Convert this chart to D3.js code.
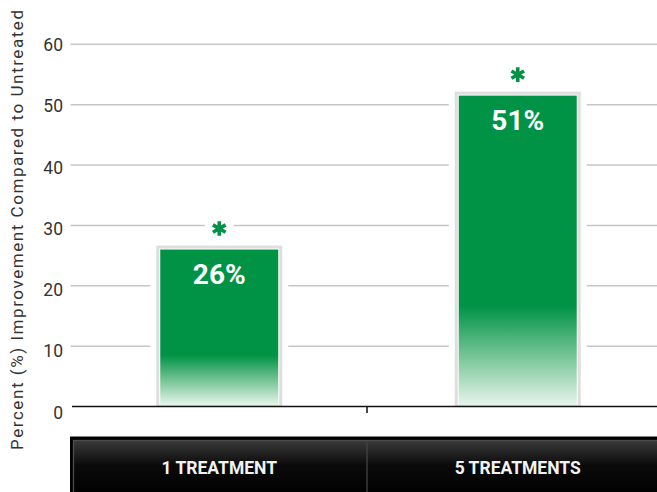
<!DOCTYPE html>
<html>
<head>
<meta charset="utf-8">
<script src="https://cdn.jsdelivr.net/npm/d3@7"></script>
<style>
  html, body { margin: 0; padding: 0; background: #fff; }
  svg { display: block; }
</style>
</head>
<body>
<svg id="chart" width="657" height="492"></svg>
<script>
// ---- data ----
const categories = ["1 TREATMENT", "5 TREATMENTS"];
const values = [26, 51.5];
const valueLabels = ["26%", "51%"];
const significant = [true, true];
const yTicks = [0, 10, 20, 30, 40, 50, 60];
const yTitle = "Percent (%) Improvement Compared to Untreated";

// ---- layout ----
const W = 657, H = 492;
const green = "#009345";
const svg = d3.select("#chart");
const defs = svg.append("defs");

const y = d3.scaleLinear().domain([0, 60]).range([406.5, 44.3]);
const yLab = d3.scaleLinear().domain([0, 60]).range([412.5, 44.6]);
const x = d3.scalePoint().domain(categories).range([70, 667]).padding(0.5);
const step = x.step();
const greenW = 118, border = 4, gapHalf = 69;

// gradients
const bg = defs.append("linearGradient").attr("id", "barGrad")
  .attr("x1", 0).attr("y1", 0).attr("x2", 0).attr("y2", 1);
bg.append("stop").attr("offset", 0).attr("stop-color", green);
bg.append("stop").attr("offset", 0.68).attr("stop-color", green);
bg.append("stop").attr("offset", 0.85).attr("stop-color", "#7cc79a");
bg.append("stop").attr("offset", 1).attr("stop-color", "#e6f4eb");

const hg = defs.append("linearGradient").attr("id", "headGrad")
  .attr("x1", 0).attr("y1", 0).attr("x2", 0).attr("y2", 1);
hg.append("stop").attr("offset", 0).attr("stop-color", "#3a3a3a");
hg.append("stop").attr("offset", 0.45).attr("stop-color", "#0a0a0a");
hg.append("stop").attr("offset", 1).attr("stop-color", "#000");

// gridlines
svg.append("g").selectAll("line").data(yTicks.filter(d => d > 0)).join("line")
  .attr("x1", 70.5).attr("x2", W)
  .attr("y1", d => y(d)).attr("y2", d => y(d))
  .attr("stroke", "#c6c6c6").attr("stroke-width", 1.5);

// tick labels
svg.append("g").selectAll("text").data(yTicks).join("text")
  .attr("x", 63).attr("y", d => yLab(d)).attr("dy", "0.36em")
  .attr("text-anchor", "end")
  .attr("font-family", "Roboto, 'DejaVu Sans', sans-serif")
  .attr("font-size", 17.5).attr("fill", "#333")
  .text(d => d);

// y title
svg.append("text")
  .attr("transform", "translate(23,230) rotate(-90)")
  .attr("text-anchor", "middle")
  .attr("font-family", "Roboto, 'DejaVu Sans', sans-serif")
  .attr("font-size", 17).attr("fill", "#333")
  .attr("textLength", 440).attr("lengthAdjust", "spacing")
  .text(yTitle);

// bars
const bars = svg.append("g").selectAll("g").data(categories).join("g");
bars.append("rect") // white gap around bar
  .attr("x", d => x(d) - gapHalf).attr("width", gapHalf * 2)
  .attr("y", (d, i) => y(values[i]) - border - 1)
  .attr("height", (d, i) => y(0) - y(values[i]) + border + 1)
  .attr("fill", "#fff");
bars.append("rect") // gray frame
  .attr("x", d => x(d) - greenW / 2 - border).attr("width", greenW + border * 2)
  .attr("y", (d, i) => y(values[i]) - border)
  .attr("height", (d, i) => y(0) - y(values[i]) + border)
  .attr("fill", "#dedede");
bars.append("rect") // white inner line
  .attr("x", d => x(d) - greenW / 2 - 1).attr("width", greenW + 2)
  .attr("y", (d, i) => y(values[i]) - 1)
  .attr("height", (d, i) => y(0) - y(values[i]) - 0.5)
  .attr("fill", "#fff");
bars.append("rect") // green bar
  .attr("x", d => x(d) - greenW / 2).attr("width", greenW)
  .attr("y", (d, i) => y(values[i]))
  .attr("height", (d, i) => y(0) - y(values[i]) - 1.5)
  .attr("fill", "url(#barGrad)");
bars.append("text")
  .attr("x", d => x(d)).attr("y", (d, i) => y(values[i]) + 34)
  .attr("text-anchor", "middle")
  .attr("font-family", "Roboto, 'DejaVu Sans', sans-serif")
  .attr("font-weight", 700).attr("font-size", 28).attr("fill", "#fff")
  .text((d, i) => valueLabels[i]);

// significance asterisks
const ast = bars.filter((d, i) => significant[i]);
ast.append("rect")
  .attr("x", d => x(d) - 14.5).attr("width", 29)
  .attr("y", (d, i) => y(values[i]) - 21 - 8).attr("height", 16)
  .attr("fill", "#fff");
ast.append("path")
  .attr("transform", (d, i) => `translate(${x(d)},${y(values[i]) - 21})`)
  .attr("d", d3.symbol(d3.symbolAsterisk, 150)())
  .attr("stroke", green).attr("stroke-width", 3.6).attr("fill", "none");

// baseline + tick
svg.append("line")
  .attr("x1", 72).attr("x2", W).attr("y1", y(0)).attr("y2", y(0))
  .attr("stroke", "#111").attr("stroke-width", 1.5);
svg.append("line")
  .attr("x1", x(categories[0]) + step / 2 - 1.5).attr("x2", x(categories[0]) + step / 2 - 1.5)
  .attr("y1", y(0)).attr("y2", y(0) + 6.5)
  .attr("stroke", "#111").attr("stroke-width", 1.5);

// category header
const hx = 70, hy = 436.5;
svg.append("rect").attr("x", hx).attr("y", hy).attr("width", W - hx + 10).attr("height", H - hy + 10)
  .attr("fill", "#000");
svg.append("rect").attr("x", hx + 3.5).attr("y", hy + 4).attr("width", W - hx).attr("height", H - hy)
  .attr("fill", "url(#headGrad)").attr("stroke", "#4d4d4d").attr("stroke-width", 1.3);
svg.append("line")
  .attr("x1", x(categories[0]) + step / 2 - 1.5).attr("x2", x(categories[0]) + step / 2 - 1.5)
  .attr("y1", hy + 5).attr("y2", H)
  .attr("stroke", "#444").attr("stroke-width", 1.3);
svg.append("g").selectAll("text").data(categories).join("text")
  .attr("x", d => x(d)).attr("y", 474)
  .attr("text-anchor", "middle")
  .attr("font-family", "Roboto, 'DejaVu Sans', sans-serif")
  .attr("font-weight", 700).attr("font-size", 17.5).attr("fill", "#f2f2f2")
  .text(d => d);
</script>
</body>
</html>
